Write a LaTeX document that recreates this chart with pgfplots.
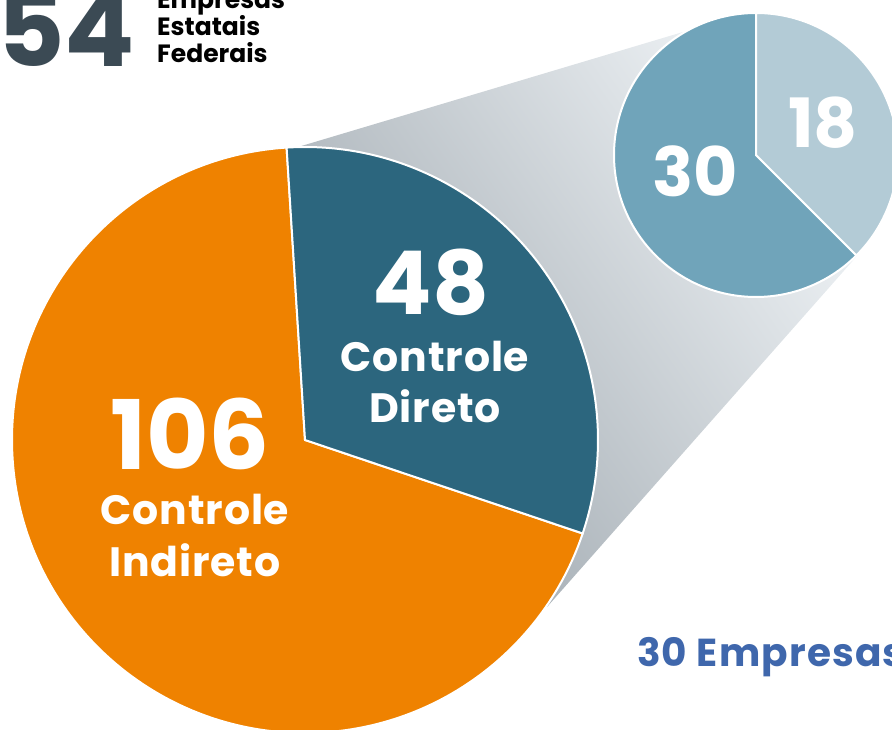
\documentclass[border=0pt]{standalone}
\usepackage{pgfplots}
\pgfplotsset{compat=1.18}
\usepackage{pgfplotstable}
\usepackage{fontspec}
\setmainfont{Poppins}
\definecolor{cOrange}{HTML}{EF8200}
\definecolor{cDark}{HTML}{2C667E}
\definecolor{cMid}{HTML}{70A4BA}
\definecolor{cLight}{HTML}{B3CBD6}
\definecolor{cGrayA}{HTML}{9EA7AE}
\definecolor{cGrayB}{HTML}{EEF2F5}
\definecolor{cNum}{HTML}{3B4A54}
\definecolor{cBlue}{HTML}{3F67AC}

\pgfplotstableread{
label value
Indireto 106
Direto 48
}\bigpie
\pgfplotstableread{
label value
Grupo30 30
Grupo18 18
}\smallpie

\begin{document}
\begin{tikzpicture}
\pgfplotstablegetelem{0}{value}\of\bigpie \let\vInd\pgfplotsretval
\pgfplotstablegetelem{1}{value}\of\bigpie \let\vDir\pgfplotsretval
\pgfplotstablegetelem{0}{value}\of\smallpie \let\vA\pgfplotsretval
\pgfplotstablegetelem{1}{value}\of\smallpie \let\vB\pgfplotsretval
\pgfmathsetmacro{\bigStart}{93.6}
\pgfmathsetmacro{\bigEnd}{\bigStart-360*(\vDir/(\vDir+\vInd))}
\pgfmathsetmacro{\bigEndO}{\bigStart+360*(\vInd/(\vDir+\vInd))}
\pgfmathsetmacro{\smStart}{90}
\pgfmathsetmacro{\smEnd}{\smStart-360*(\vB/(\vA+\vB))}
\pgfmathsetmacro{\smEndA}{\smStart+360*(\vA/(\vA+\vB))}
\begin{axis}[
  width=892pt, height=730pt, scale only axis,
  xmin=0, xmax=892, ymin=0, ymax=730,
  hide axis, clip=true, clip bounding box=upper bound,
]
% connector
\path[shading=axis, bottom color=cGrayA, top color=cGrayB, shading angle=-55]
  (axis cs:298,583) -- (axis cs:683,698) -- (axis cs:756,575) -- (axis cs:857,474)
  -- (axis cs:547,123) -- (axis cs:305,290) -- cycle;
% big pie
\fill[cOrange, draw=white, line width=2pt] (axis cs:305,290) -- ++(\bigStart:293pt)
  arc[start angle=\bigStart, end angle=\bigEndO, radius=293pt] -- cycle;
\fill[cDark, draw=white, line width=2pt] (axis cs:305,290) -- ++(\bigStart:293pt)
  arc[start angle=\bigStart, end angle=\bigEnd, radius=293pt] -- cycle;
% small pie
\fill[cMid, draw=white, line width=2pt] (axis cs:756,575) -- ++(\smStart:142pt)
  arc[start angle=\smStart, end angle=\smEndA, radius=142pt] -- cycle;
\fill[cLight, draw=white, line width=2pt] (axis cs:756,575) -- ++(\smStart:142pt)
  arc[start angle=\smStart, end angle=\smEnd, radius=142pt] -- cycle;
% labels
\node[anchor=base, text=white, font=\bfseries\fontsize{88}{88}\selectfont, inner sep=0pt] at (axis cs:431,415) {\vDir};
\node[anchor=base, text=white, font=\bfseries\fontsize{41}{41}\selectfont\addfontfeature{LetterSpace=2}, inner sep=0pt] at (axis cs:435,358) {Controle};
\node[anchor=base, text=white, font=\bfseries\fontsize{41}{41}\selectfont\addfontfeature{LetterSpace=2}, inner sep=0pt] at (axis cs:435,307) {Direto};
\node[anchor=base, text=white, font=\bfseries\fontsize{96}{96}\selectfont, inner sep=0pt] at (axis cs:190,260) {\vInd};
\node[anchor=base, text=white, font=\bfseries\fontsize{41}{41}\selectfont\addfontfeature{LetterSpace=2}, inner sep=0pt] at (axis cs:195,205) {Controle};
\node[anchor=base, text=white, font=\bfseries\fontsize{41}{41}\selectfont\addfontfeature{LetterSpace=2}, inner sep=0pt] at (axis cs:195,153) {Indireto};
\node[anchor=base, text=white, font=\bfseries\fontsize{68}{68}\selectfont, inner sep=0pt] at (axis cs:695,533) {\vA};
\node[anchor=base, text=white, font=\bfseries\fontsize{68}{68}\selectfont, inner sep=0pt] at (axis cs:823,582) {\vB};
\node[anchor=base west, text=cNum, font=\bfseries\fontsize{104}{104}\selectfont, inner sep=0pt] at (axis cs:-3,663) {54};
\node[anchor=base west, text=black, font=\bfseries\fontsize{25}{25}\selectfont, inner sep=0pt] at (axis cs:157,721) {Empresas};
\node[anchor=base west, text=black, font=\bfseries\fontsize{25}{25}\selectfont, inner sep=0pt] at (axis cs:157,694) {Estatais};
\node[anchor=base west, text=black, font=\bfseries\fontsize{25}{25}\selectfont, inner sep=0pt] at (axis cs:157,667) {Federais};
\node[anchor=base west, text=cBlue, font=\bfseries\fontsize{39}{39}\selectfont\addfontfeature{LetterSpace=3}, inner sep=0pt] at (axis cs:637,63) {30 Empresas};
\end{axis}
\end{tikzpicture}
\end{document}
